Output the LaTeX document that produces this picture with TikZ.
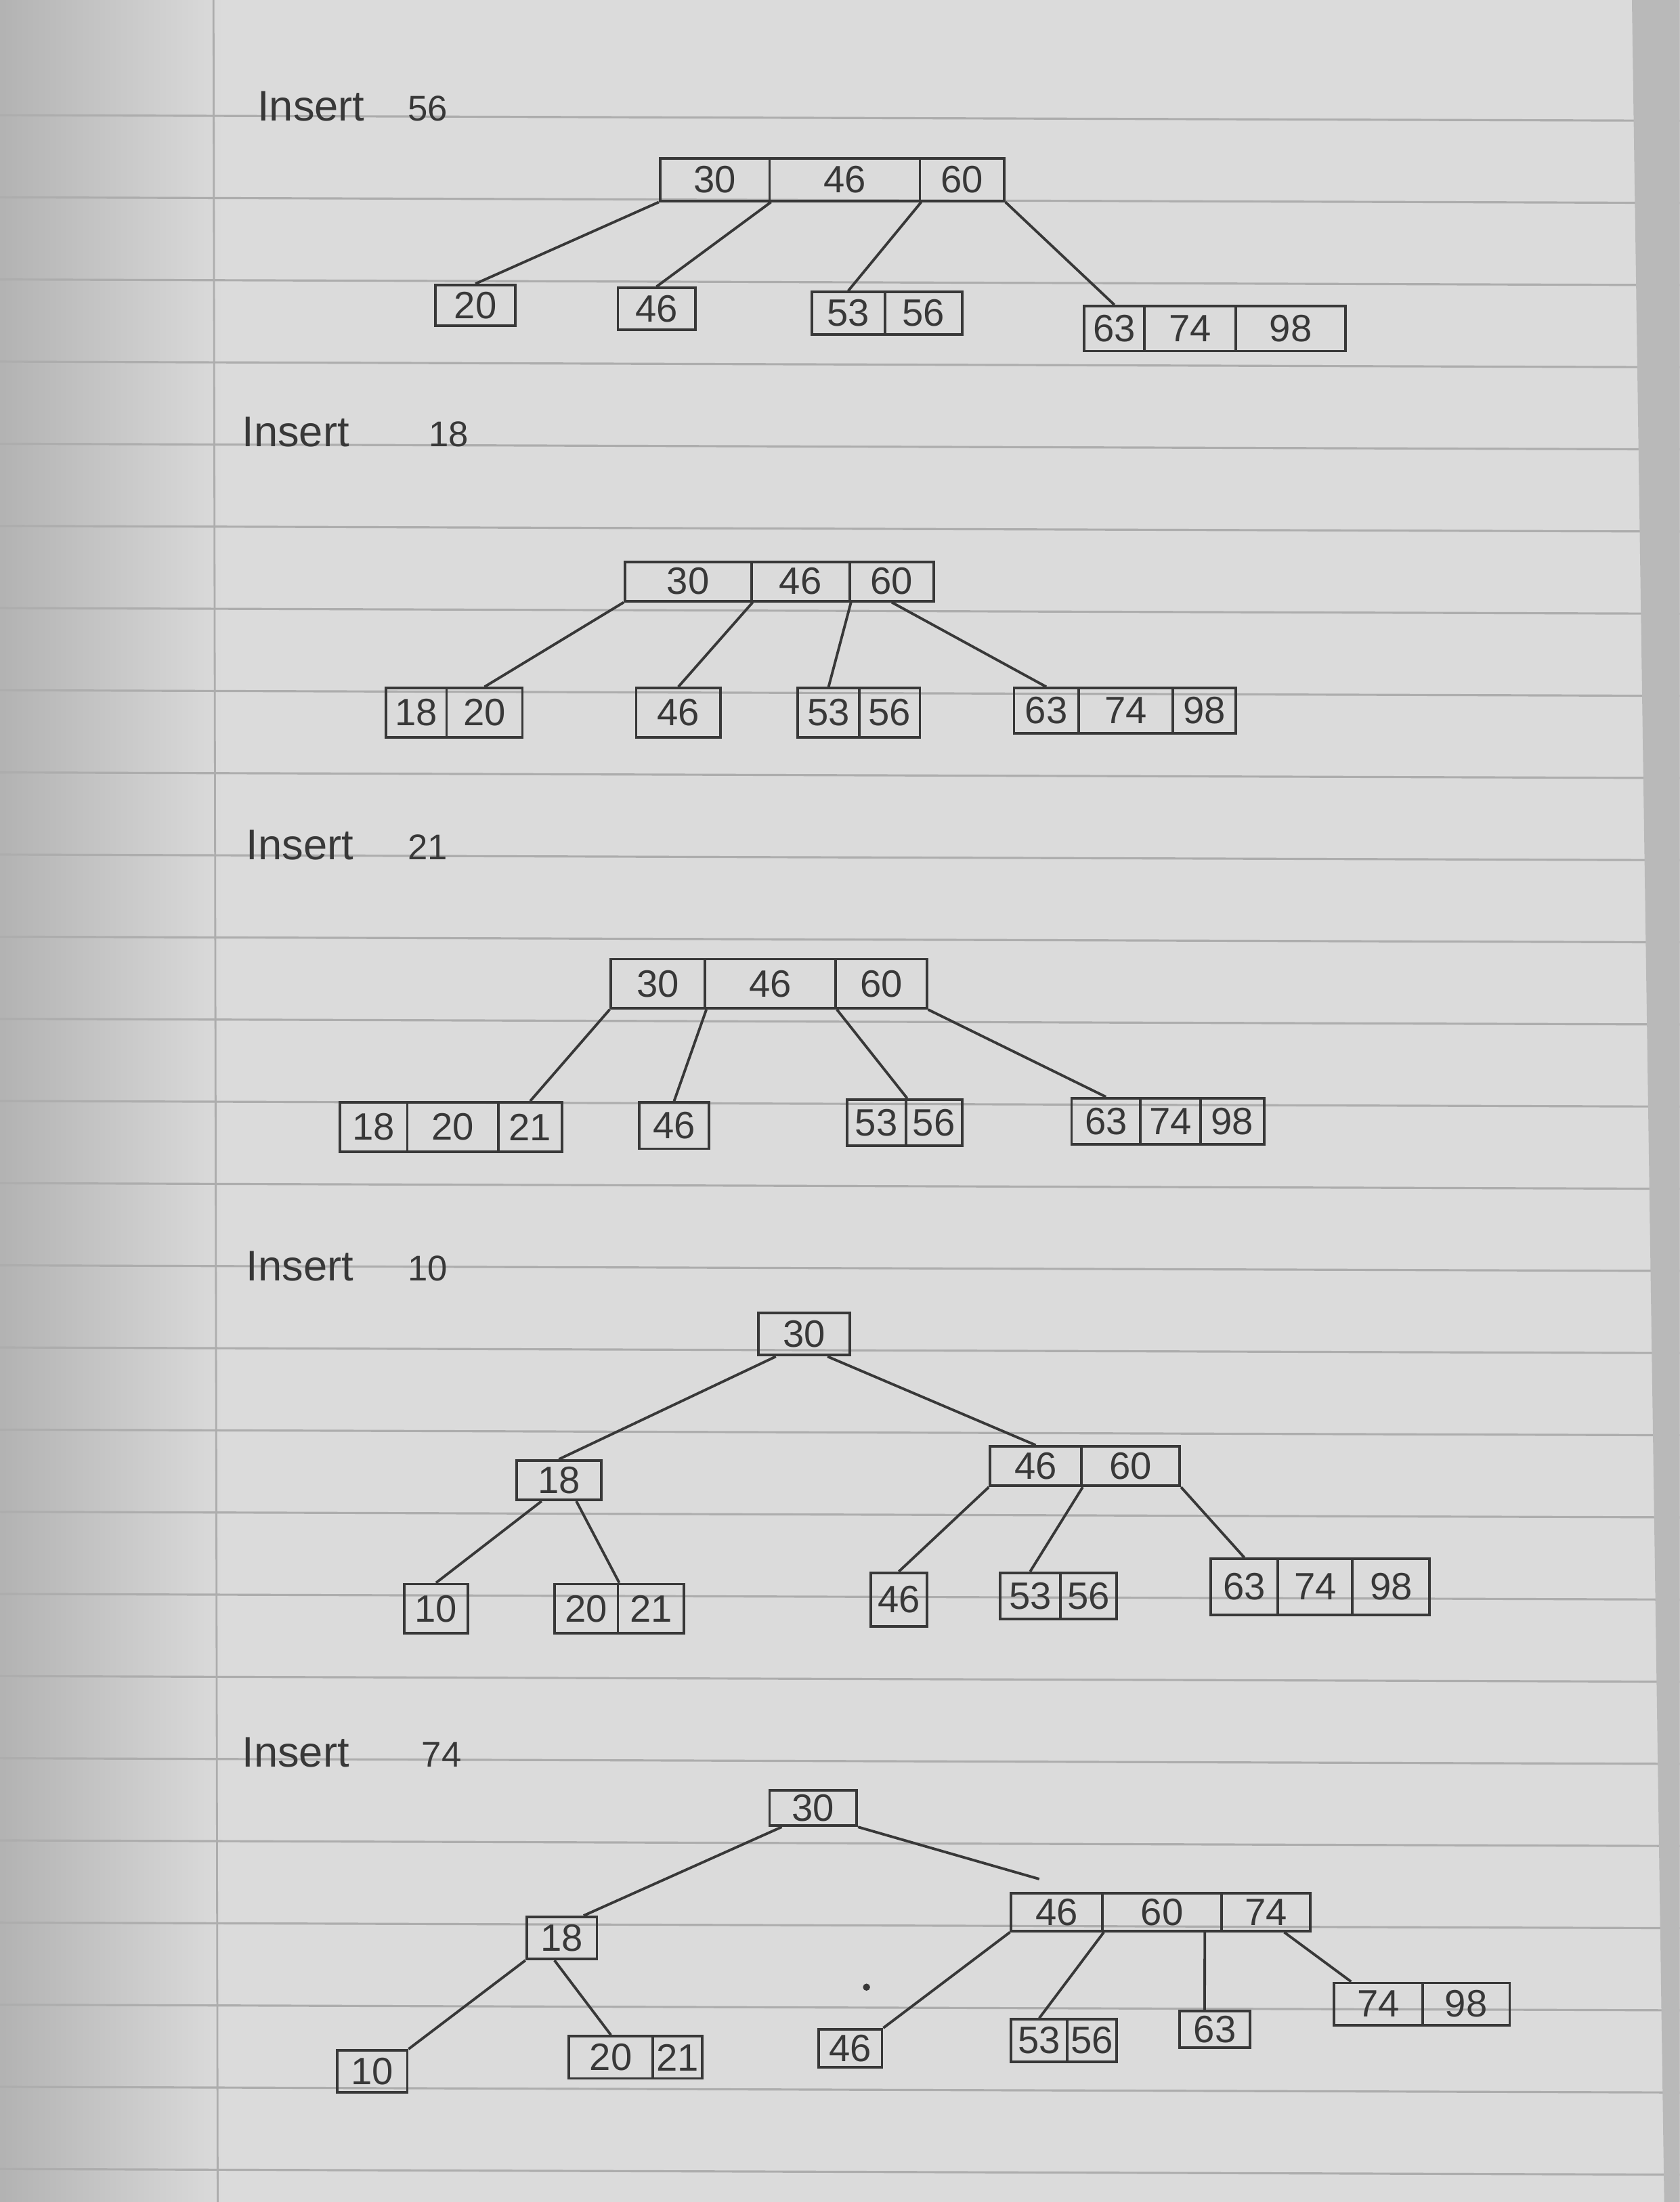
\documentclass[tikz,border=0pt]{standalone}
\usepackage{fontspec}
\setmainfont{Liberation Sans}
\usetikzlibrary{calc}
\definecolor{pencil}{gray}{0.22}
\definecolor{paper}{gray}{0.86}
\definecolor{rule}{gray}{0.68}
\newcommand\kc[6]{\node[kcell, minimum width={(#3-#2)*0.020736cm}, minimum height={(#5-#4)*0.020736cm}] (#1) at ({(#2+#3)/2},{(#4+#5)/2}) {#6};}
\begin{document}
\begin{tikzpicture}[x=0.020736cm, y=-0.020736cm,
  kcell/.style={draw=pencil, line width=1.1pt, inner sep=0pt, text=pencil, font=\fontsize{16}{18}\selectfont},
  edge/.style={draw=pencil, line width=1.1pt},
  lbl/.style={anchor=base west, inner sep=0pt, text=pencil, font=\fontsize{18}{22}\selectfont},
  num/.style={anchor=base west, inner sep=0pt, text=pencil, font=\fontsize{15}{18}\selectfont},
  ruling/.style={draw=rule, line width=0.9pt}]
% paper
\fill[paper] (0,0) rectangle (1196,1568);
\useasboundingbox (0,0) rectangle (1196,1568);
\shade[left color=gray!60, right color=paper] (0,0) rectangle (160,1568);
\foreach \k in {0,...,26} \draw[ruling] (0,{82+58.5*\k}) -- (1196,{86+58.5*\k});
\draw[draw=rule, line width=0.8pt] (152,0) -- (155,1568);
\fill[gray!55] (1162,0) -- (1196,0) -- (1196,1568) -- (1185,1568) -- cycle;

% ---------- Insert 56 ----------
\node[lbl] (t1) at (183,86) {Insert};
\node[num] (t1n) at (290,86) {56};
\kc{r1a}{470}{548}{113}{143}{30}
\kc{r1b}{548}{655}{113}{143}{46}
\kc{r1c}{655}{715}{113}{143}{60}
\kc{a1}{310}{367}{203}{232}{20}
\kc{b1}{440}{495}{205}{235}{46}
\kc{c1a}{578}{630}{208}{238}{53}
\kc{c1b}{630}{685}{208}{238}{56}
\kc{d1a}{772}{815}{218}{250}{63}
\kc{d1b}{815}{880}{218}{250}{74}
\kc{d1c}{880}{958}{218}{250}{98}
\draw[edge] (r1a.south west) -- (a1.north);
\draw[edge] (r1a.south east) -- (b1.north);
\draw[edge] (r1b.south east) -- (c1a.north);
\draw[edge] (r1c.south east) -- (d1a.north);

% ---------- Insert 18 ----------
\node[lbl] (t2) at (172,318) {Insert};
\node[num] (t2n) at (305,318) {18};
\kc{r2a}{445}{535}{400}{428}{30}
\kc{r2b}{535}{605}{400}{428}{46}
\kc{r2c}{605}{665}{400}{428}{60}
\kc{a2a}{275}{318}{490}{525}{18}
\kc{a2b}{318}{372}{490}{525}{20}
\kc{b2}{453}{513}{490}{525}{46}
\kc{c2a}{568}{612}{490}{525}{53}
\kc{c2b}{612}{655}{490}{525}{56}
\kc{d2a}{722}{768}{490}{522}{63}
\kc{d2b}{768}{835}{490}{522}{74}
\kc{d2c}{835}{880}{490}{522}{98}
\draw[edge] (r2a.south west) -- (a2b.north);
\draw[edge] (r2a.south east) -- (b2.north);
\draw[edge] (r2b.south east) -- (c2a.north);
\draw[edge] (r2c.south) -- (d2a.north);

% ---------- Insert 21 ----------
\node[lbl] (t3) at (175,612) {Insert};
\node[num] (t3n) at (290,612) {21};
\kc{r3a}{435}{502}{683}{718}{30}
\kc{r3b}{502}{595}{683}{718}{46}
\kc{r3c}{595}{660}{683}{718}{60}
\kc{a3a}{242}{290}{785}{820}{18}
\kc{a3b}{290}{355}{785}{820}{20}
\kc{a3c}{355}{400}{785}{820}{21}
\kc{b3}{455}{505}{785}{818}{46}
\kc{c3a}{603}{645}{783}{816}{53}
\kc{c3b}{645}{685}{783}{816}{56}
\kc{d3a}{763}{812}{782}{815}{63}
\kc{d3b}{812}{855}{782}{815}{74}
\kc{d3c}{855}{900}{782}{815}{98}
\draw[edge] (r3a.south west) -- (a3c.north);
\draw[edge] (r3a.south east) -- (b3.north);
\draw[edge] (r3b.south east) -- (c3a.north east);
\draw[edge] (r3c.south east) -- (d3a.north);

% ---------- Insert 10 ----------
\node[lbl] (t4) at (175,912) {Insert};
\node[num] (t4n) at (290,912) {10};
\kc{r4}{540}{605}{935}{965}{30}
\kc{p4}{368}{428}{1040}{1068}{18}
\kc{q4a}{705}{770}{1030}{1058}{46}
\kc{q4b}{770}{840}{1030}{1058}{60}
\kc{a4}{288}{333}{1128}{1163}{10}
\kc{b4a}{395}{440}{1128}{1163}{20}
\kc{b4b}{440}{487}{1128}{1163}{21}
\kc{c4}{620}{660}{1120}{1158}{46}
\kc{d4a}{712}{755}{1120}{1153}{53}
\kc{d4b}{755}{795}{1120}{1153}{56}
\kc{e4a}{862}{910}{1110}{1150}{63}
\kc{e4b}{910}{963}{1110}{1150}{74}
\kc{e4c}{963}{1018}{1110}{1150}{98}
\draw[edge] ($(r4.south west)!0.2!(r4.south east)$) -- (p4.north);
\draw[edge] ($(r4.south west)!0.75!(r4.south east)$) -- (q4a.north);
\draw[edge] ($(p4.south west)!0.3!(p4.south east)$) -- (a4.north);
\draw[edge] ($(p4.south west)!0.7!(p4.south east)$) -- (b4a.north east);
\draw[edge] (q4a.south west) -- (c4.north);
\draw[edge] (q4a.south east) -- (d4a.north);
\draw[edge] (q4b.south east) -- (e4a.north);

% ---------- Insert 74 ----------
\node[lbl] (t5) at (172,1258) {Insert};
\node[num] (t5n) at (300,1258) {74};
\kc{r5}{548}{610}{1275}{1300}{30}
\kc{p5}{375}{425}{1365}{1395}{18}
\kc{q5a}{720}{785}{1348}{1375}{46}
\kc{q5b}{785}{870}{1348}{1375}{60}
\kc{q5c}{870}{933}{1348}{1375}{74}
\kc{a5}{240}{290}{1460}{1490}{10}
\kc{b5a}{405}{465}{1450}{1480}{20}
\kc{b5b}{465}{500}{1450}{1480}{21}
\kc{c5}{583}{628}{1445}{1472}{46}
\kc{d5a}{720}{760}{1438}{1468}{53}
\kc{d5b}{760}{795}{1438}{1468}{56}
\kc{e5}{840}{890}{1432}{1458}{63}
\kc{f5a}{950}{1013}{1412}{1442}{74}
\kc{f5b}{1013}{1075}{1412}{1442}{98}
\coordinate (q5t) at (740,1338);
\draw[edge] ($(r5.south west)!0.15!(r5.south east)$) -- ($(p5.north west)!0.8!(p5.north east)$);
\draw[edge] (r5.south east) -- (q5t);
\draw[edge] (p5.south west) -- (a5.north east);
\draw[edge] ($(p5.south west)!0.4!(p5.south east)$) -- (b5a.north);
\draw[edge] (q5a.south west) -- (c5.north east);
\draw[edge] (q5a.south east) -- (d5a.north);
\draw[edge] ($(q5b.south west)!0.85!(q5b.south east)$) -- ($(e5.north west)!0.36!(e5.north east)$);
\draw[edge] ($(q5c.south west)!0.7!(q5c.south east)$) -- ($(f5a.north west)!0.2!(f5a.north east)$);
\fill[pencil] (617,1415) circle (1.5pt);
\end{tikzpicture}
\end{document}
